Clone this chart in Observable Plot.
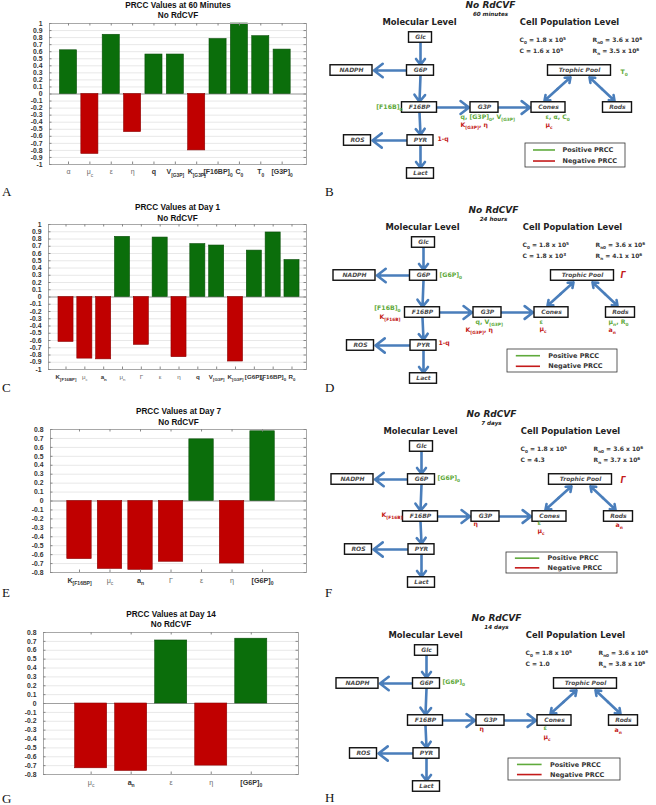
<!DOCTYPE html>
<html><head><meta charset="utf-8">
<script src="https://cdn.jsdelivr.net/npm/d3@7"></script>
<script src="https://cdn.jsdelivr.net/npm/@observablehq/plot@0.6"></script>
<style>
body{margin:0;background:#fff;}
#page{position:relative;width:656px;height:805px;overflow:hidden;background:#fff;}
.panel{position:absolute;}
.letter{position:absolute;font-family:"Liberation Serif","DejaVu Serif",serif;font-size:13px;color:#111;line-height:14px;}
</style></head><body><div id="page"></div>
<script>
// ---------------- data ----------------
const titleA = "PRCC Values at 60 Minutes";
const catsA = ["α","μ_c","ε","η","q","V_{[G3P]}","K_{[G3P]}","[F16BP]_0","C_0","T_0","[G3P]_0"];
const prccA = [0.62,-0.85,0.84,-0.54,0.56,0.56,-0.80,0.78,1.0,0.82,0.63];

const titleC = "PRCC Values at Day 1";
const catsC = ["K_{[F16BP]}","μ_c","a_n","μ_n","Γ","ε","η","q","V_{[G3P]}","K_{[G3P]}","[G6P]_0","[F16BP]_0","R_0"];
const prccC = [-0.62,-0.85,-0.86,0.83,-0.66,0.82,-0.83,0.73,0.71,-0.89,0.64,0.89,0.51];

const titleE = "PRCC Values at Day 7";
const catsE = ["K_{[F16BP]}","μ_c","a_n","Γ","ε","η","[G6P]_0"];
const prccE = [-0.65,-0.76,-0.77,-0.68,0.69,-0.70,0.78];

const titleG = "PRCC Values at Day 14";
const catsG = ["μ_c","a_n","ε","η","[G6P]_0"];
const prccG = [-0.73,-0.76,0.71,-0.70,0.73];

const subtitle = "No RdCVF";
const panelLetters = ["A","B","C","D","E","F","G","H"];

// diagram texts
const diagTimes = ["60 minutes","24 hours","7 days","14 days"];
const cellC0 = ["C_0 = 1.8 x 10^5","C_0 = 1.8 x 10^5","C_0 = 1.8 x 10^5","C_0 = 1.8 x 10^5"];
const cellC  = ["C = 1.6 x 10^5","C = 1.8 x 10^3","C = 4.3","C = 1.0"];
const cellR0 = ["R_{n0} = 3.6 x 10^6","R_{n0} = 3.6 x 10^6","R_{n0} = 3.6 x 10^6","R_{n0} = 3.6 x 10^6"];
const cellR  = ["R_n = 3.5 x 10^6","R_n = 4.1 x 10^6","R_n = 3.7 x 10^6","R_n = 3.8 x 10^6"];
const nodeNames = ["Glc","G6P","NADPH","F16BP","G3P","Cones","Rods","Trophic Pool","ROS","PYR","Lact"];
const legendLabels = ["Positive PRCC","Negative PRCC"];
// sensitive parameters shown in each diagram (sign: + positive, - negative)
const paramsB = [["[F16B]_0","+"],["T_0","+"],["q, [G3P]_0, V_{[G3P]}","+"],["K_{[G3P]}, η","-"],["ε, α, C_0","+"],["μ_c","-"],["1-q","-"]];
const paramsD = [["[G6P]_0","+"],["Γ","-"],["[F16B]_0","+"],["K_{[F16B]}","-"],["q, V_{[G3P]}","+"],["K_{[G3P]}, η","-"],["ε","+"],["μ_c","-"],["μ_n, R_0","+"],["a_n","-"],["1-q","-"]];
const paramsF = [["[G6P]_0","+"],["Γ","-"],["K_{[F16B]}","-"],["η","-"],["ε","+"],["μ_c","-"],["a_n","-"]];
const paramsH = [["[G6P]_0","+"],["η","-"],["ε","+"],["μ_c","-"],["a_n","-"]];

// ---------------- layout / style ----------------
const GREEN = "#0b6e0b", RED = "#c00000";
const LGREEN = "#5faa3c", LRED = "#c41a1a";
const BLUE = "#4a7ebb";
const CFONT = "'Liberation Sans Narrow','Liberation Sans',Arial,sans-serif";
const DFONT = "'DejaVu Sans',Verdana,sans-serif";
const page = document.getElementById("page");

function parseRich(s){
  const out=[]; let i=0, buf="";
  while(i<s.length){
    const c=s[i];
    if((c==="_"||c==="^")&&i+1<s.length){
      if(buf){out.push({t:"n",s:buf});buf="";}
      let seg;
      if(s[i+1]==="{"){const j=s.indexOf("}",i+2); seg=s.slice(i+2,j); i=j+1;}
      else {seg=s[i+1]; i+=2;}
      out.push({t:c==="_"?"sub":"sup", s:seg});
    } else {buf+=c;i++;}
  }
  if(buf) out.push({t:"n",s:buf});
  return out;
}
function richify(root){
  root.querySelectorAll("text").forEach(t=>{
    const s=t.textContent;
    if(!/[_^]/.test(s)) return;
    const fs=parseFloat(getComputedStyle(t).fontSize)||10;
    const parts=parseRich(s);
    t.textContent="";
    let cur=0;
    for(const p of parts){
      const ts=document.createElementNS("http://www.w3.org/2000/svg","tspan");
      const target=p.t==="sub"?fs*0.32:p.t==="sup"?-fs*0.42:0;
      if(target!==cur){ts.setAttribute("dy",(target-cur).toFixed(2));cur=target;}
      if(p.t!=="n") ts.setAttribute("font-size",(fs*0.7).toFixed(2));
      ts.textContent=p.s;
      t.appendChild(ts);
    }
  });
}
function place(node,left,top){
  const d=document.createElement("div");
  d.className="panel"; d.style.left=left+"px"; d.style.top=top+"px";
  d.appendChild(node); page.appendChild(d);
  // greek tick labels are drawn lighter and regular weight (TeX symbols)
  node.querySelectorAll('g[aria-label="x-axis tick label"] text').forEach(t=>{
    if(/^[\u0391-\u03A9\u03B1-\u03C9]/.test(t.textContent)){t.setAttribute("fill","#6a6a6a");t.setAttribute("font-weight","normal");}
  });
  richify(node);
}

function barChart(cfg){
  const {cats,vals,title,yMax,xDomain,height,mt,mb,ml,mr} = cfg;
  const rows = cats.map((c,i)=>({pos:i+1,v:vals[i]}));
  const n10 = Math.round(yMax*10);
  const yTicks = d3.range(-n10,n10+1).map(k=>k/10);
  const fmt = d=>{const r=Math.round(d*10)/10; return r===0?"0":String(r);};
  const pxY = (height-mt-mb)/(2*yMax);
  const pxX = (330-ml-mr)/(xDomain[1]-xDomain[0]);
  const tl = 2.5/pxY, tlx = 2.5/pxX;
  const chart = Plot.plot({
    width:330, height, marginTop:mt, marginBottom:mb, marginLeft:ml, marginRight:mr,
    x:{domain:xDomain, axis:null, label:null}, y:{domain:[-yMax,yMax], axis:null, label:null},
    color:{type:"identity"},
    style:{fontFamily:CFONT, background:"transparent", overflow:"visible", color:"#222"},
    marks:[
      Plot.gridY(yTicks,{stroke:"#e8e8e8",strokeOpacity:1}),
      Plot.ruleY([0],{stroke:"#a0a0a0",strokeWidth:1}),
      Plot.rect(rows,{x1:d=>d.pos-0.4,x2:d=>d.pos+0.4,y1:0,y2:"v",
        fill:d=>d.v>=0?GREEN:RED, stroke:d=>d.v>=0?"#0a4f0a":"#8c0000", strokeWidth:0.6}),
      Plot.frame({stroke:"#a8a8a8"}),
      Plot.ruleX(rows,{x:"pos",y1:-yMax,y2:-yMax+tl,stroke:"#888"}),
      Plot.ruleX(rows,{x:"pos",y1:yMax,y2:yMax-tl,stroke:"#888"}),
      Plot.ruleY(yTicks,{x1:xDomain[0],x2:xDomain[0]+tlx,stroke:"#888"}),
      Plot.ruleY(yTicks,{x1:xDomain[1],x2:xDomain[1]-tlx,stroke:"#888"}),
      Plot.axisY(yTicks,{tickSize:0,tickPadding:7,tickFormat:fmt,fontSize:6.8,fontWeight:"bold",fill:"#333",label:null}),
      Plot.axisX(rows.map(d=>d.pos),{tickSize:0,tickPadding:5,tickFormat:p=>cats[p-1],fontSize:cfg.xfs||7.2,fontWeight:"bold",fill:"#333",label:null}),
      Plot.text([title],{frameAnchor:"top",dy:cfg.t1,lineAnchor:"middle",fontWeight:"bold",fontSize:8.2,fill:"#111"}),
      Plot.text([subtitle],{frameAnchor:"top",dy:cfg.t2,lineAnchor:"middle",fontWeight:"bold",fontSize:8.2,fill:"#111"})
    ]
  });
  place(chart,0,cfg.top);
}

barChart({cats:catsA,vals:prccA,title:titleA,yMax:1,xDomain:[0.11,12.14],top:0,height:200,mt:23,mb:36,ml:49,mr:24,t1:-18,t2:-8,xfs:7});
barChart({cats:catsC,vals:prccC,title:titleC,yMax:1,xDomain:[0.07,13.77],top:195,height:205,mt:29,mb:31,ml:48,mr:24,t1:-17,t2:-6.5,xfs:6.2});
barChart({cats:catsE,vals:prccE,title:titleE,yMax:0.8,xDomain:[0.05,8.44],top:400,height:200,mt:29,mb:28,ml:50,mr:24,t1:-18,t2:-7.5});
barChart({cats:catsG,vals:prccG,title:titleG,yMax:0.8,xDomain:[-0.19,6.18],top:600,height:205,mt:32,mb:31,ml:43,mr:32,t1:-18,t2:-8});

// ---------- diagrams ----------
// base node layout [x, y, width] (panel-local units)
const nodeLayout = [[93,47,23],[93,80,27],[24,80,42],[92,117,35],[157,117,28],[221,117,34],[290,117,29],[252,80,63],[30,150,27],[93,150,26],[93,183,27]];
const BOX_H = 10.5;
const edges = [
  ["Glc","G6P","v"],["G6P","F16BP","v"],["F16BP","PYR","v"],["PYR","Lact","v"],
  ["G6P","NADPH","h"],["PYR","ROS","h"],["F16BP","G3P","h"],["G3P","Cones","h"],
  ["Trophic Pool","Cones","d",-9,-4],["Trophic Pool","Rods","d",10,-3]
];
const diagPanels = [
  {top:0, shift:[-3,-10], legend:[195,295,143,167],
   pos:[[72,107,"end"],[290,72],[130,117],[130,125],[215,117],[215,125],[107,139]], params:paramsB},
  {top:195, shift:[0,0], legend:[177,287,154,177],
   pos:[[109,80],[290,80],[70,113,"end"],[70,122,"end"],[145,127],[135,135],[209,127],[209,134],[278,127],[278,135],[108,148]], params:paramsD},
  {top:400, shift:[-2,-1], legend:[176,287,152,173],
   pos:[[107,78],[290,80],[72,115,"end"],[143,124],[207,123],[207,131],[285,125]], params:paramsF},
  {top:600, shift:[3,3], legend:[178,290,158,180],
   pos:[[112,82],[149,129],[213,128],[213,137],[284,130]], params:paramsH}
];

function diagram(k){
  const P = diagPanels[k], [sx,sy] = P.shift;
  const W=326,H=205;
  const nodes = nodeNames.map((n,i)=>({name:n,x:nodeLayout[i][0]+sx,y:nodeLayout[i][1]+sy,w:nodeLayout[i][2]}));
  const N = Object.fromEntries(nodes.map(d=>[d.name,d]));
  const arrows=[];
  for(const [f,t,type,fdx,tdx] of edges){
    const a=N[f], b=N[t];
    if(type==="v") arrows.push({x1:a.x,y1:a.y+BOX_H/2,x2:b.x,y2:b.y-BOX_H/2-0.5});
    else if(type==="h"){
      const s=Math.sign(b.x-a.x);
      arrows.push({x1:a.x+s*a.w/2,y1:a.y,x2:b.x-s*(b.w/2+1.5),y2:b.y});
    } else {
      const x1=a.x+fdx,y1=a.y+BOX_H/2+1.5,x2=b.x+tdx,y2=b.y-BOX_H/2-1.5;
      const mx=(x1+x2)/2,my=(y1+y2)/2;
      arrows.push({x1:mx,y1:my,x2:x1,y2:y1});
      arrows.push({x1:mx,y1:my,x2:x2,y2:y2});
    }
  }
  const labels = P.params.map(([t,s],i)=>({t, c:s==="+"?LGREEN:LRED, x:P.pos[i][0], y:P.pos[i][1], a:P.pos[i][2]||"start", big:t==="Γ"}));
  const [lx1,lx2,ly1,ly2]=P.legend;
  const lg = legendLabels.map((t,i)=>({t,c:i===0?LGREEN:LRED,y:ly1+(ly2-ly1)*(i===0?0.27:0.73)}));
  const cx = 163+sx;
  const chart = Plot.plot({
    width:W,height:H,margin:0,
    x:{domain:[0,W],range:[0,W],axis:null,label:null}, y:{domain:[0,H],range:[0,H],axis:null,label:null},
    color:{type:"identity"},
    style:{fontFamily:DFONT,background:"transparent",overflow:"visible"},
    marks:[
      Plot.arrow(arrows,{x1:"x1",y1:"y1",x2:"x2",y2:"y2",stroke:BLUE,strokeWidth:2.6,headLength:7,headAngle:75}),
      Plot.rect(nodes,{x1:d=>d.x-d.w/2,x2:d=>d.x+d.w/2,y1:d=>d.y-BOX_H/2,y2:d=>d.y+BOX_H/2,fill:"white",stroke:"#111",strokeWidth:1.4}),
      Plot.text(nodes,{x:"x",y:"y",text:"name",fontSize:6,fontStyle:"italic",fontWeight:"bold",fill:"#4a4a4a"}),
      Plot.text([subtitle],{x:[cx],y:[15+sy],fontSize:9,fontStyle:"italic",fontWeight:"bold",fill:"#222"}),
      Plot.text([diagTimes[k]],{x:[cx],y:[24+sy],fontSize:5.6,fontStyle:"italic",fontWeight:"bold",fill:"#222"}),
      Plot.text(["Molecular Level"],{x:[92+sx],y:[32+sy],fontSize:8.4,fontWeight:"bold",fill:"#222"}),
      Plot.text(["Cell Population Level"],{x:[242+sx],y:[32+sy],fontSize:8.4,fontWeight:"bold",fill:"#222"}),
      Plot.text([cellC0[k],cellC[k]],{x:[192+sx,192+sx],y:[50+sy,61+sy],textAnchor:"start",fontSize:6,fontWeight:"bold",fill:"#333"}),
      Plot.text([cellR0[k],cellR[k]],{x:[265+sx,265+sx],y:[50+sy,61+sy],textAnchor:"start",fontSize:6,fontWeight:"bold",fill:"#333"}),
      Plot.text(labels.filter(d=>d.a==="start"&&!d.big),{x:"x",y:"y",text:"t",fill:"c",textAnchor:"start",fontSize:6.2,fontWeight:"bold"}),
      Plot.text(labels.filter(d=>d.a==="end"),{x:"x",y:"y",text:"t",fill:"c",textAnchor:"end",fontSize:6.2,fontWeight:"bold"}),
      Plot.text(labels.filter(d=>d.big),{x:"x",y:"y",text:"t",fill:"c",textAnchor:"start",fontSize:8,fontWeight:"bold",fontStyle:"italic"}),
      Plot.rect([0],{x1:lx1,x2:lx2,y1:ly1,y2:ly2,fill:"white",stroke:"#333",strokeWidth:0.8}),
      Plot.ruleY(lg,{y:"y",x1:lx1+(lx2-lx1)*0.08,x2:lx1+(lx2-lx1)*0.3,stroke:"c",strokeWidth:1.6}),
      Plot.text(lg,{y:"y",x:lx1+(lx2-lx1)*0.37,text:"t",textAnchor:"start",fontSize:6.5,fontWeight:"bold",fill:"#333"})
    ]
  });
  place(chart,330,P.top);
}
[0,1,2,3].forEach(diagram);

// panel letters
const letterPos = [[2,185],[325,185],[2,381],[325,381],[2,586],[325,586],[2,792],[325,791]];
panelLetters.forEach((L,i)=>{
  const d=document.createElement("div"); d.className="letter";
  d.style.left=letterPos[i][0]+"px"; d.style.top=letterPos[i][1]+"px"; d.textContent=L;
  page.appendChild(d);
});
</script></body></html>
